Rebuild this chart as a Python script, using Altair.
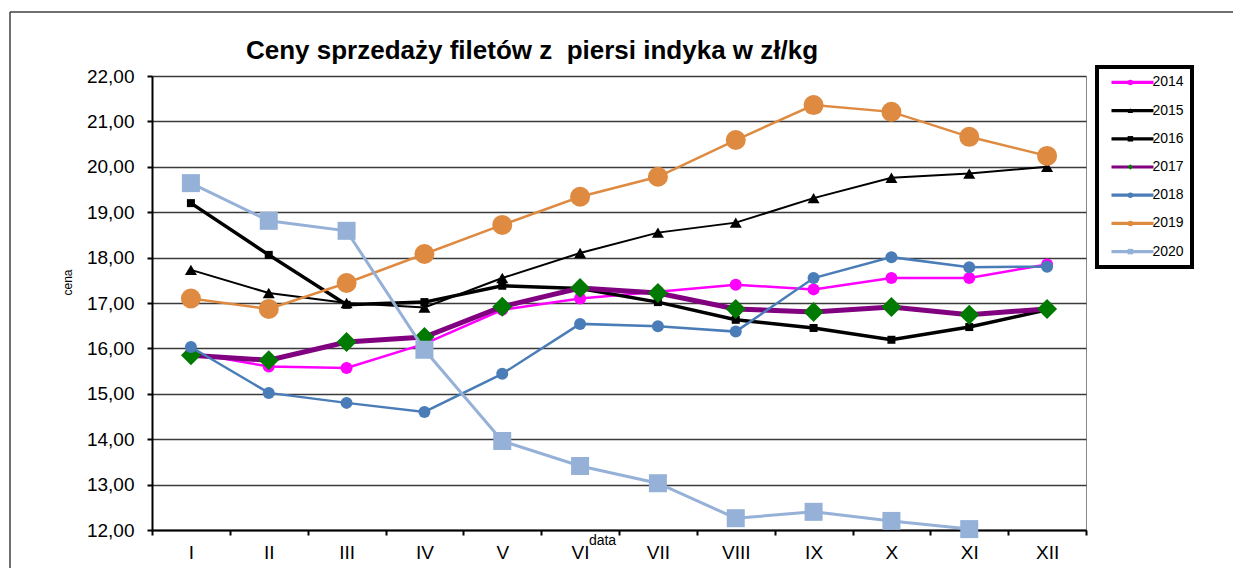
import altair as alt
import pandas as pd

months = ["I", "II", "III", "IV", "V", "VI", "VII", "VIII", "IX", "X", "XI", "XII"]
years = ["2014", "2015", "2016", "2017", "2018", "2019", "2020"]

v2014 = [15.90, 15.60, 15.57, 16.10, 16.85, 17.10, 17.25, 17.40, 17.30, 17.55, 17.55, 17.85]
v2015 = [17.73, 17.22, 17.00, 16.90, 17.55, 18.10, 18.55, 18.77, 19.31, 19.76, 19.85, 20.00]
v2016 = [19.20, 18.06, 16.96, 17.02, 17.38, 17.32, 17.02, 16.63, 16.45, 16.19, 16.47, 16.85]
v2017 = [15.85, 15.74, 16.14, 16.25, 16.92, 17.33, 17.22, 16.87, 16.80, 16.91, 16.74, 16.87]
v2018 = [16.03, 15.02, 14.80, 14.60, 15.44, 16.54, 16.49, 16.37, 17.55, 18.01, 17.79, 17.80]
v2019 = [17.10, 16.87, 17.44, 18.08, 18.72, 19.34, 19.78, 20.59, 21.36, 21.21, 20.66, 20.24]
v2020 = [19.64, 18.81, 18.59, 15.97, 13.96, 13.41, 13.03, 12.26, 12.40, 12.20, 12.02, None]
series = [v2014, v2015, v2016, v2017, v2018, v2019, v2020]

line_colors = ["#FF00FF", "#000000", "#000000", "#800080", "#4A7DB8", "#DE8A41", "#95B1D8"]
marker_colors = ["#FF00FF", "#000000", "#000000", "#007A00", "#4A7DB8", "#DE8A41", "#95B1D8"]
marker_shapes = ["circle", "triangle-up", "square", "diamond", "circle", "circle", "square"]
marker_sizes = [144, 144, 64, 400, 144, 400, 324]
line_widths = [2.5, 2, 3.5, 5, 2.5, 2.5, 3]

marker_keys = ["m" + y for y in years]

rows = []
for yname, key, vals in zip(years, marker_keys, series):
    for m, v in zip(months, vals):
        if v is not None:
            rows.append({"miesiac": m, "cena": v, "seria": yname, "znacznik": key})
df = pd.DataFrame(rows)

FONT = "Liberation Sans"

x_enc = alt.X(
    "miesiac:N",
    sort=months,
    scale=alt.Scale(type="band", domain=months, paddingInner=0, paddingOuter=0),
    axis=alt.Axis(
        title="data", titleFont=FONT, titleFontSize=14, titleFontWeight="normal",
        titleX=450, titleY=10, titleBaseline="middle", titleAlign="center",
        labelFont=FONT, labelFontSize=19, labelColor="black", labelAngle=0,
        labelPadding=8, tickBand="extent", tickSize=5, tickColor="black",
        tickWidth=2, domainColor="black", domainWidth=2, grid=False,
    ),
)
y_enc = alt.Y(
    "cena:Q",
    scale=alt.Scale(domain=[12, 22], nice=False, zero=False),
    axis=alt.Axis(
        title="cena", titleFont=FONT, titleFontSize=12, titleFontWeight="normal",
        titleX=-85, titleY=206, titleAngle=-90, titleBaseline="middle", titleAlign="center",
        values=[12, 13, 14, 15, 16, 17, 18, 19, 20, 21, 22],
        labelExpr="replace(format(datum.value, '.2f'), '.', ',')",
        labelFont=FONT, labelFontSize=19, labelColor="black", labelPadding=13,
        tickSize=5, tickColor="black", tickWidth=2, domainColor="black", domainWidth=2,
        grid=True, gridColor="#3a3a3a", gridWidth=1.5,
    ),
)

legend_lines = alt.Legend(
    title=None, orient="none", legendX=945, legendY=-9,
    strokeColor="black", padding=8.4,
    symbolType="M-0.26,0H11.74", symbolSize=49, symbolStrokeWidth=3.2,
    labelFont=FONT, labelFontSize=14, labelColor="black", labelOffset=33,
    rowPadding=14.2,
)
legend_marks = alt.Legend(
    title=None, orient="none", legendX=963, legendY=-9,
    strokeColor="transparent", padding=8.4, symbolSize=30, symbolStrokeWidth=0,
    labelFont=FONT, labelFontSize=14, labelExpr="' '", labelOffset=33,
    rowPadding=14.2,
)

layers = []
for i, yname in enumerate(years):
    base = alt.Chart(df).transform_filter(alt.datum.seria == yname)
    line = base.mark_line(strokeWidth=line_widths[i]).encode(
        x=x_enc,
        y=y_enc,
        stroke=alt.Stroke("seria:N", scale=alt.Scale(domain=years, range=line_colors), legend=legend_lines),
    )
    pts = base.mark_point(filled=True, opacity=1, size=marker_sizes[i]).encode(
        x=x_enc,
        y=y_enc,
        fill=alt.Fill("znacznik:N", scale=alt.Scale(domain=marker_keys, range=marker_colors), legend=legend_marks),
        shape=alt.Shape("znacznik:N", scale=alt.Scale(domain=marker_keys, range=marker_shapes), legend=legend_marks),
    )
    layers += [line, pts]

frame_df = pd.DataFrame({"k": [0]})
frame_top = alt.Chart(frame_df).mark_rule(color="#404040", strokeWidth=1.5).encode(
    x=alt.value(-142), x2=alt.value(1100), y=alt.value(-64)
)
frame_left = alt.Chart(frame_df).mark_rule(color="#404040", strokeWidth=1.5).encode(
    x=alt.value(-142), y=alt.value(-64), y2=alt.value(500)
)

chart = alt.layer(frame_top, frame_left, *layers).properties(
    width=934,
    height=454,
    title=alt.Title(
        "Ceny sprzedaży filetów z\u00a0 piersi indyka w zł/kg",
        font=FONT, fontSize=26, fontWeight="bold", color="black",
        anchor="middle", frame="group", dx=-87, offset=-74, baseline="alphabetic",
    ),
    autosize=alt.AutoSizeParams(type="none"),
    padding={"left": 144, "top": 68, "right": 147, "bottom": 38},
).configure_view(stroke="#888888", strokeWidth=1).configure_legend(strokeWidth=4)

chart.save("out.html", embed_options={"renderer": "svg", "actions": False})
